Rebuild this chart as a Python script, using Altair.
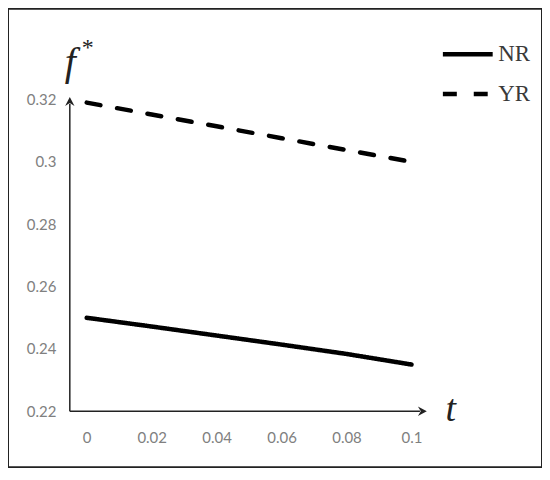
import altair as alt
import pandas as pd

# data
t_vals = [0, 0.02, 0.04, 0.06, 0.08, 0.1]
nr_vals = [0.25, 0.2472, 0.2443, 0.2414, 0.2384, 0.235]
yr_vals = [0.319, 0.3152, 0.3114, 0.3076, 0.3038, 0.300]
series = ["NR", "YR"]
x_ticks = [0, 0.02, 0.04, 0.06, 0.08, 0.1]
y_ticks = [0.22, 0.24, 0.26, 0.28, 0.3, 0.32]

rows = []
for s, vals in zip(series, [nr_vals, yr_vals]):
    for t, v in zip(t_vals, vals):
        rows.append({"t": t, "f": v, "series": s})
df = pd.DataFrame(rows)

X_DOM = [-0.02423, 0.14018]
Y_DOM = [0.2021, 0.34907]
AX_X0 = -0.0052
AX_X1 = 0.1046
AX_Y0 = 0.22
AX_Y1 = 0.3206

xs = alt.Scale(domain=X_DOM, nice=False, zero=False)
ys = alt.Scale(domain=Y_DOM, nice=False, zero=False)

x_label_expr = "datum.value == 0 ? '0' : datum.value == 0.1 ? '0.1' : format(datum.value, '.2f')"
y_label_expr = "datum.value == 0.3 ? '0.3' : format(datum.value, '.2f')"

lines = alt.Chart(df).mark_line(strokeWidth=4.5, color="black", strokeCap="round").encode(
    x=alt.X("t:Q", scale=xs,
            axis=alt.Axis(values=x_ticks, domain=False, ticks=False, grid=False,
                          offset=-37, labelPadding=0, labelExpr=x_label_expr,
                          labelFont="Lato", labelFontSize=15, labelColor="#808080",
                          title="t", titleFont="Liberation Serif", titleFontStyle="italic",
                          titleFontWeight="normal", titleFontSize=38, titleColor="#222",
                          titleX=444, titleY=-10, titleAlign="center", titleBaseline="alphabetic")),
    y=alt.Y("f:Q", scale=ys,
            axis=alt.Axis(values=y_ticks, domain=False, ticks=False, grid=False,
                          offset=-50, labelPadding=2, labelExpr=y_label_expr,
                          labelFont="Lato", labelFontSize=15, labelColor="#808080",
                          title="f", titleFont="Liberation Serif", titleFontStyle="italic",
                          titleFontWeight="normal", titleFontSize=40, titleColor="#222",
                          titleAngle=0, titleX=12, titleY=66, titleAlign="center",
                          titleBaseline="alphabetic")),
    strokeDash=alt.StrokeDash("series:N",
        scale=alt.Scale(domain=series, range=[[1, 0], [14, 17]]),
        legend=alt.Legend(title=None, orient="none", legendX=434, legendY=18,
                          symbolType="stroke", symbolSize=2500, symbolStrokeWidth=4.5,
                          symbolStrokeColor="black", labelFont="Liberation Serif",
                          labelFontSize=23, labelColor="#3a3a3a", labelOffset=3,
                          rowPadding=0)),
    detail="series:N",
)

axis_df = pd.DataFrame([
    {"x": AX_X0, "x2": AX_X0, "y": AX_Y0, "y2": AX_Y1 - 0.002},
    {"x": AX_X0, "x2": AX_X1 - 0.002, "y": AX_Y0, "y2": AX_Y0},
])
axes = alt.Chart(axis_df).mark_rule(color="#222", strokeWidth=1.5).encode(
    x=alt.X("x:Q", scale=xs), x2="x2", y=alt.Y("y:Q", scale=ys), y2="y2")

ARROW = "M0,-1L0.9,0.7L0,0.15L-0.9,0.7Z"
arrow_up = alt.Chart(pd.DataFrame([{"x": AX_X0, "y": AX_Y1 - 0.0015}])).mark_point(
    shape=ARROW, filled=True, color="#222", size=110, opacity=1).encode(
    x=alt.X("x:Q", scale=xs), y=alt.Y("y:Q", scale=ys))
arrow_right = alt.Chart(pd.DataFrame([{"x": AX_X1 - 0.0015, "y": AX_Y0}])).mark_point(
    shape=ARROW, filled=True, color="#222", size=110, opacity=1, angle=90).encode(
    x=alt.X("x:Q", scale=xs), y=alt.Y("y:Q", scale=ys))

star = alt.Chart(pd.DataFrame({"s": ["*"]})).mark_text(
    font="Liberation Serif", fontSize=24, color="#222", align="center", baseline="top"
).encode(x=alt.value(80), y=alt.value(27), text="s:N")

chart = alt.layer(axes, arrow_up, arrow_right, lines, star).properties(
    width=536, height=460, padding=0, autosize="none"
).configure_view(stroke="#222", strokeWidth=2).configure_axis(labelFlush=False)

chart.save("out.html", embed_options={"renderer": "svg", "actions": False})
